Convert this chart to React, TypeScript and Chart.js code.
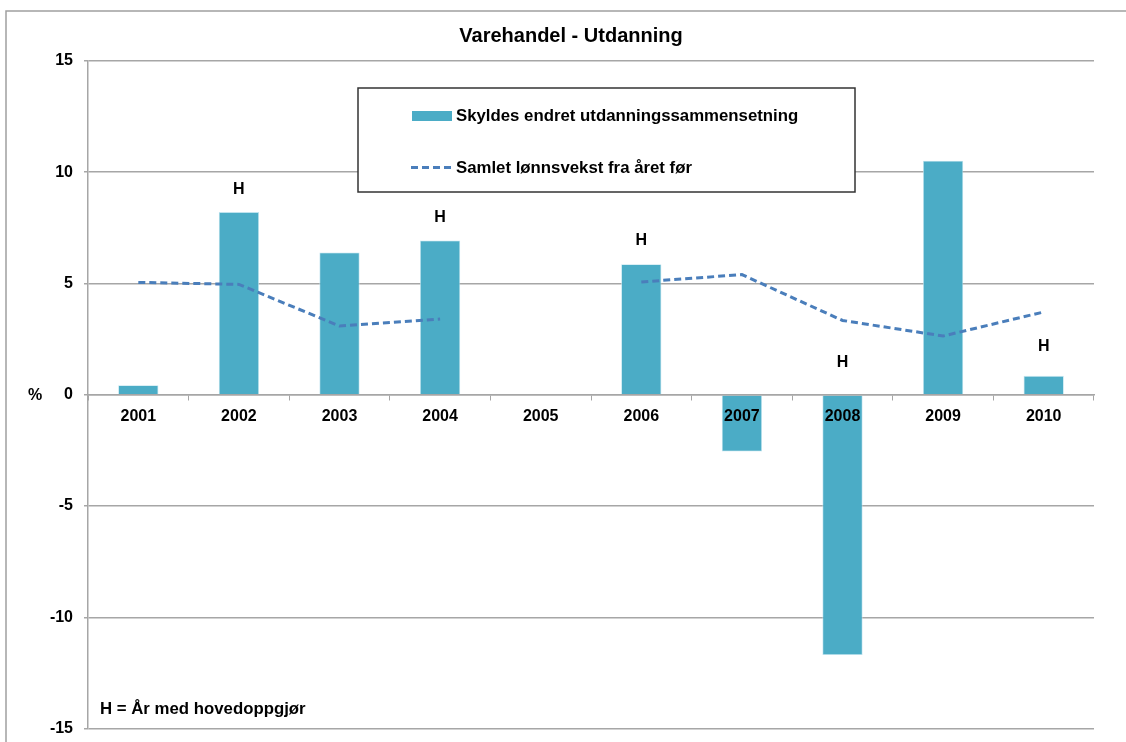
import React, { useEffect, useRef } from "react";
import { Chart, registerables } from "chart.js";

Chart.register(...registerables);

const years = ["2001", "2002", "2003", "2004", "2005", "2006", "2007", "2008", "2009", "2010"];
const educationEffect = [0.43, 8.21, 6.39, 6.93, null, 5.87, -2.55, -11.7, 10.52, 0.85];
const wageGrowth = [5.05, 4.96, 3.09, 3.4, null, 5.07, 5.4, 3.34, 2.64, 3.72];
const hMarkerPos = [null, 9.21, null, 7.98, null, 6.93, null, 1.43, null, 2.15];
const yMin = -15;
const yMax = 15;
const yStep = 5;

const title = "Varehandel - Utdanning";
const barLabel = "Skyldes endret utdanningssammensetning";
const lineLabel = "Samlet lønnsvekst fra året før";
const footnote = "H = År med hovedoppgjør";
const unitLabel = "%";

const FONT = "'Liberation Sans', Arial, sans-serif";
const BAR_COLOR = "#4BACC6";
const LINE_COLOR = "#4A7EBB";
const GRID_COLOR = "#a6a6a6";

export default function App() {
  const ref = useRef<HTMLCanvasElement | null>(null);

  useEffect(() => {
    if (!ref.current) return;

    const decorPlugin = {
      id: "decor",
      beforeDraw(chart: any) {
        const ctx = chart.ctx;
        ctx.save();
        ctx.fillStyle = "#ffffff";
        ctx.fillRect(0, 0, chart.width, chart.height);
        ctx.strokeStyle = "#a0a0a0";
        ctx.lineWidth = 1.5;
        ctx.beginPath();
        ctx.moveTo(6, chart.height + 5);
        ctx.lineTo(6, 11);
        ctx.lineTo(chart.width + 5, 11);
        ctx.stroke();
        ctx.restore();
      },
      afterDraw(chart: any) {
        const ctx = chart.ctx;
        const xs = chart.scales.x;
        const ys = chart.scales.y;
        ctx.save();
        ctx.fillStyle = "#000";
        ctx.textBaseline = "middle";
        // title
        ctx.font = `bold 20px ${FONT}`;
        ctx.textAlign = "center";
        ctx.fillText(title, 571, 36);
        // H markers
        ctx.font = `bold 16px ${FONT}`;
        hMarkerPos.forEach((v, i) => {
          if (v === null) return;
          ctx.fillText("H", xs.getPixelForValue(i), ys.getPixelForValue(v));
        });
        // unit label
        ctx.fillText(unitLabel, 35, ys.getPixelForValue(0) + 1);
        // footnote
        ctx.textAlign = "left";
        ctx.font = `bold 16.8px ${FONT}`;
        ctx.fillText(footnote, 100, 709);
        // legend box
        ctx.fillStyle = "#fff";
        ctx.fillRect(358, 88, 497, 104);
        ctx.strokeStyle = "#333";
        ctx.lineWidth = 1.5;
        ctx.strokeRect(358, 88, 497, 104);
        ctx.fillStyle = BAR_COLOR;
        ctx.fillRect(412, 111, 40, 10);
        ctx.strokeStyle = LINE_COLOR;
        ctx.lineWidth = 3;
        ctx.setLineDash([7, 4]);
        ctx.beginPath();
        ctx.moveTo(411, 167.5);
        ctx.lineTo(452, 167.5);
        ctx.stroke();
        ctx.setLineDash([]);
        ctx.fillStyle = "#000";
        ctx.font = `bold 16.8px ${FONT}`;
        ctx.fillText(barLabel, 456, 116);
        ctx.fillText(lineLabel, 456, 168);
        ctx.restore();
      },
    };

    const chart = new Chart(ref.current, {
      data: {
        labels: years,
        datasets: [
          {
            type: "line",
            label: lineLabel,
            data: wageGrowth,
            borderColor: LINE_COLOR,
            borderWidth: 3,
            borderDash: [7, 4],
            pointRadius: 0,
            spanGaps: false,
            fill: false,
            order: 0,
          },
          {
            type: "bar",
            label: barLabel,
            data: educationEffect,
            backgroundColor: BAR_COLOR,
            borderColor: "#bfe3ee",
            borderWidth: 0.8,
            barPercentage: 0.4,
            categoryPercentage: 1,
            order: 1,
          },
        ],
      } as any,
      options: {
        responsive: false,
        animation: false,
        maintainAspectRatio: false,
        layout: { padding: { top: 61, bottom: 13.5, left: 0, right: 32 } },
        plugins: {
          legend: { display: false },
          title: { display: false },
          tooltip: { enabled: false },
        },
        scales: {
          x: {
            type: "category",
            position: { y: 0 } as any,
            offset: true,
            grid: {
              offset: true,
              drawOnChartArea: false,
              drawTicks: true,
              tickLength: 5,
              color: GRID_COLOR,
            },
            border: { display: true, color: GRID_COLOR, width: 1.5, z: 1 },
            ticks: {
              z: 2,
              color: "#000",
              font: { family: FONT, size: 16, weight: "bold" },
              padding: 7,
              maxRotation: 0,
              autoSkip: false,
            },
            afterFit(scale: any) {
              scale.paddingTop = 0;
              scale.paddingBottom = 0;
            },
          },
          y: {
            min: yMin,
            max: yMax,
            afterFit(scale: any) {
              scale.width = 88;
              scale.paddingTop = 0;
              scale.paddingBottom = 0;
            },
            grid: {
              color: GRID_COLOR,
              lineWidth: 1.5,
              drawTicks: true,
              tickLength: 4,
            },
            border: { display: true, color: GRID_COLOR, width: 1.5 },
            ticks: {
              stepSize: yStep,
              color: "#000",
              font: { family: FONT, size: 16, weight: "bold" },
              padding: 11,
            },
          },
        },
      } as any,
      plugins: [decorPlugin],
    });

    return () => chart.destroy();
  }, []);

  return (
    <div style={{ position: "fixed", left: 0, top: 0, width: 1126, height: 742, background: "#fff" }}>
      <canvas ref={ref} width={1126} height={742} style={{ display: "block" }} />
    </div>
  );
}
